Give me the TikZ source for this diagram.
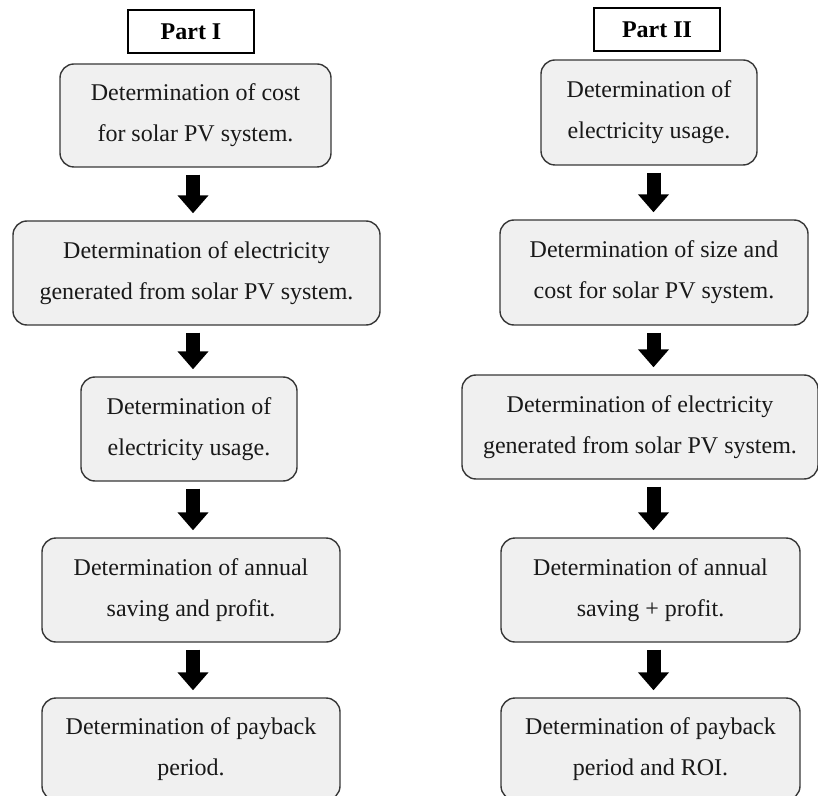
\documentclass[tikz,border=0pt]{standalone}
\usepackage{fontspec}
\setmainfont{Liberation Serif}
\usepackage{xcolor}
\usepackage{tikz}
\usetikzlibrary{positioning,arrows.meta,calc}
\definecolor{stepfill}{RGB}{240,240,240}
\definecolor{stepline}{RGB}{55,55,55}

\tikzset{
  stepbox/.style={draw=stepline, line width=0.7pt, rounded corners=7pt,
        fill=stepfill, align=center, inner sep=0pt, text=black!90,
        font=\fontsize{12}{20.5}\selectfont},
  partbox/.style={draw=black, line width=0.8pt, fill=white, inner sep=0pt,
        minimum width=63pt, minimum height=21.5pt,
        font=\fontsize{12}{14}\selectfont\bfseries},
  flowarrow/.style={line width=7pt, -{Triangle[length=9pt,width=15pt]},
        shorten <=3.5pt, shorten >=3.5pt}
}

\begin{document}
\begin{tikzpicture}[x=0.5pt, y=-0.5pt]
  \useasboundingbox (0,0) rectangle (818,796);
  \clip (0,0) rectangle (818,796);
  \coordinate (colA) at (193,0);
  \coordinate (colB) at (653.5,0);

  % Part I
  \node[partbox] (partI) at (191,31.5) {Part I};
  \node[stepbox, minimum width=135.5pt, minimum height=51.5pt] (costA) at (195.5,115.5)
    {Determination of cost\\for solar PV system.};
  \node[stepbox, minimum width=183.5pt, minimum height=52pt] (genA) at (196.5,273)
    {Determination of electricity\\generated from solar PV system.};
  \node[stepbox, minimum width=108pt, minimum height=52pt] (useA) at (189,429)
    {Determination of\\electricity usage.};
  \node[stepbox, minimum width=149pt, minimum height=52pt] (saveA) at (191,590)
    {Determination of annual\\saving and profit.};
  \node[stepbox, minimum width=149pt, minimum height=51pt] (payA) at (191,749)
    {Determination of payback\\period.};

  \draw[flowarrow] (costA.south -| colA) -- (genA.north -| colA);
  \draw[flowarrow] (genA.south -| colA) -- (useA.north -| colA);
  \draw[flowarrow] (useA.south -| colA) -- (saveA.north -| colA);
  \draw[flowarrow] (saveA.south -| colA) -- (payA.north -| colA);

  % Part II
  \node[partbox] (partII) at (657,29.5) {Part II};
  \node[stepbox, minimum width=108pt, minimum height=52.5pt] (useB) at (649,112.5)
    {Determination of\\electricity usage.};
  \node[stepbox, minimum width=154pt, minimum height=52.5pt] (sizeB) at (654,272.5)
    {Determination of size and\\cost for solar PV system.};
  \node[stepbox, minimum width=178pt, minimum height=52pt] (genB) at (640,427)
    {Determination of electricity\\generated from solar PV system.};
  \node[stepbox, minimum width=149.5pt, minimum height=52pt] (saveB) at (650.5,590)
    {Determination of annual\\saving + profit.};
  \node[stepbox, minimum width=149.5pt, minimum height=51pt] (payB) at (650.5,749)
    {Determination of payback\\period and ROI.};

  \draw[flowarrow] (useB.south -| colB) -- (sizeB.north -| colB);
  \draw[flowarrow] (sizeB.south -| colB) -- (genB.north -| colB);
  \draw[flowarrow] (genB.south -| colB) -- (saveB.north -| colB);
  \draw[flowarrow] (saveB.south -| colB) -- (payB.north -| colB);
\end{tikzpicture}
\end{document}
